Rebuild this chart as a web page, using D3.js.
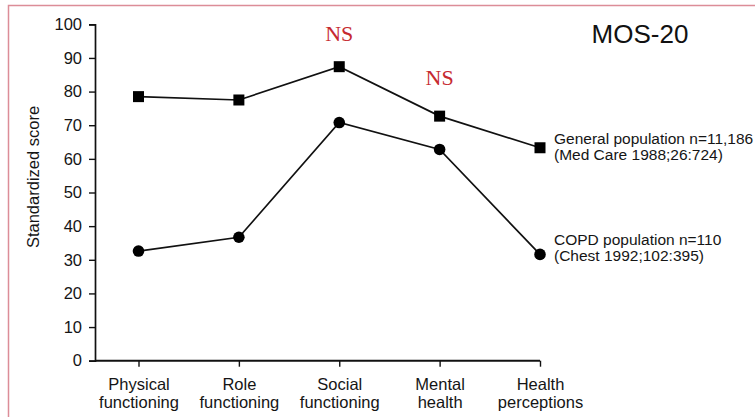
<!DOCTYPE html>
<html><head><meta charset="utf-8">
<script src="https://cdn.jsdelivr.net/npm/d3@7"></script>
<style>
html,body{margin:0;padding:0;background:#fff;}
svg{display:block;}
</style></head>
<body>
<svg id="chart" width="755" height="417" font-family="Liberation Sans, Arial, Helvetica, sans-serif"></svg>
<script>
const categories = [["Physical","functioning"],["Role","functioning"],["Social","functioning"],["Mental","health"],["Health","perceptions"]];
const generalValues = [78.5, 77.5, 87.4, 72.7, 63.3];
const copdValues = [32.6, 36.7, 70.8, 62.8, 31.6];
const yTicks = [0,10,20,30,40,50,60,70,80,90,100];
const generalLabel = ["General population n=11,186","(Med Care 1988;26:724)"];
const copdLabel = ["COPD population n=110","(Chest 1992;102:395)"];
const nsMarks = [{cat:2, value:94.9}, {cat:3, value:82.0}];
const title = "MOS-20";

const svg = d3.select("#chart");
const W = 755, H = 417;

// frame border
svg.append("path").attr("d", `M8.5,${H} V5.5 H${W}`).attr("fill","none")
  .attr("stroke","#dc8d98").attr("stroke-width",1.5);

const idx = d3.range(categories.length);
const x = d3.scalePoint().domain(idx).range([138.5, 540]);
const y = d3.scaleLinear().domain([0,100]).range([360.7, 24.3]);
const axisLeftX = 95;

const g = svg.append("g");

// Y axis
const yAxis = g.append("g").attr("transform",`translate(${axisLeftX},0)`)
  .call(d3.axisLeft(y).tickValues(yTicks).tickSize(6).tickPadding(7));
yAxis.attr("font-family",null).attr("font-size",null);
yAxis.select(".domain").attr("stroke","#111").attr("stroke-width",1.7);
yAxis.selectAll(".tick line").attr("stroke","#111").attr("stroke-width",1.4);
yAxis.selectAll(".tick text").attr("font-size",16.5).attr("fill","#151515");

// X axis
const xAxis = g.append("g").attr("transform",`translate(0,${y(0)})`)
  .call(d3.axisBottom(x).tickSize(6).tickFormat(""));
xAxis.attr("font-family",null).attr("font-size",null);
xAxis.select(".domain").remove();
g.append("line").attr("x1",axisLeftX).attr("x2",x(idx[idx.length-1]))
  .attr("y1",y(0)).attr("y2",y(0)).attr("stroke","#111").attr("stroke-width",1.9);
xAxis.selectAll(".tick line").attr("stroke","#111").attr("stroke-width",1.4);
xAxis.selectAll(".tick").each(function(d){
  const t = d3.select(this).append("text").attr("fill","#151515")
    .attr("font-size",16.5).attr("text-anchor","middle");
  t.append("tspan").attr("x",0).attr("y",29).text(categories[d][0]);
  t.append("tspan").attr("x",0).attr("y",47).text(categories[d][1]);
});

// Y title
g.append("text").attr("transform",`translate(39,177) rotate(-90)`)
  .attr("text-anchor","middle").attr("font-size",16.5).attr("fill","#151515")
  .text("Standardized score");

// lines
const line = d3.line().x((d,i)=>x(i)).y(d=>y(d));
g.append("path").datum(generalValues).attr("d",line).attr("fill","none")
  .attr("stroke","#111").attr("stroke-width",1.7);
g.append("path").datum(copdValues).attr("d",line).attr("fill","none")
  .attr("stroke","#111").attr("stroke-width",1.7);

// markers
const sq = 11;
g.selectAll("rect.gen").data(generalValues).join("rect").attr("class","gen")
  .attr("x",(d,i)=>x(i)-sq/2).attr("y",d=>y(d)-sq/2).attr("width",sq).attr("height",sq)
  .attr("fill","#000");
g.selectAll("circle.copd").data(copdValues).join("circle").attr("class","copd")
  .attr("cx",(d,i)=>x(i)).attr("cy",d=>y(d)).attr("r",5.8).attr("fill","#000");

// legend labels
function label(lines, v){
  const t = g.append("text").attr("font-size",15.5).attr("fill","#151515");
  lines.forEach((s,k)=>t.append("tspan").attr("x",x(idx[idx.length-1])+14)
    .attr("y",y(v)+k*15.8).text(s));
}
label(generalLabel, generalValues[4]+1.0);
label(copdLabel, copdValues[4]+2.8);

// NS marks
g.selectAll("text.ns").data(nsMarks).join("text").attr("class","ns")
  .attr("x",d=>x(d.cat)).attr("y",d=>y(d.value)).attr("text-anchor","middle")
  .attr("font-family","Liberation Serif, Times New Roman, serif")
  .attr("font-size",22).attr("fill","#c62a30").text("NS");

// title
g.append("text").attr("x",640).attr("y",43).attr("text-anchor","middle")
  .attr("font-size",26).attr("fill","#111").text(title);
</script>
</body></html>
